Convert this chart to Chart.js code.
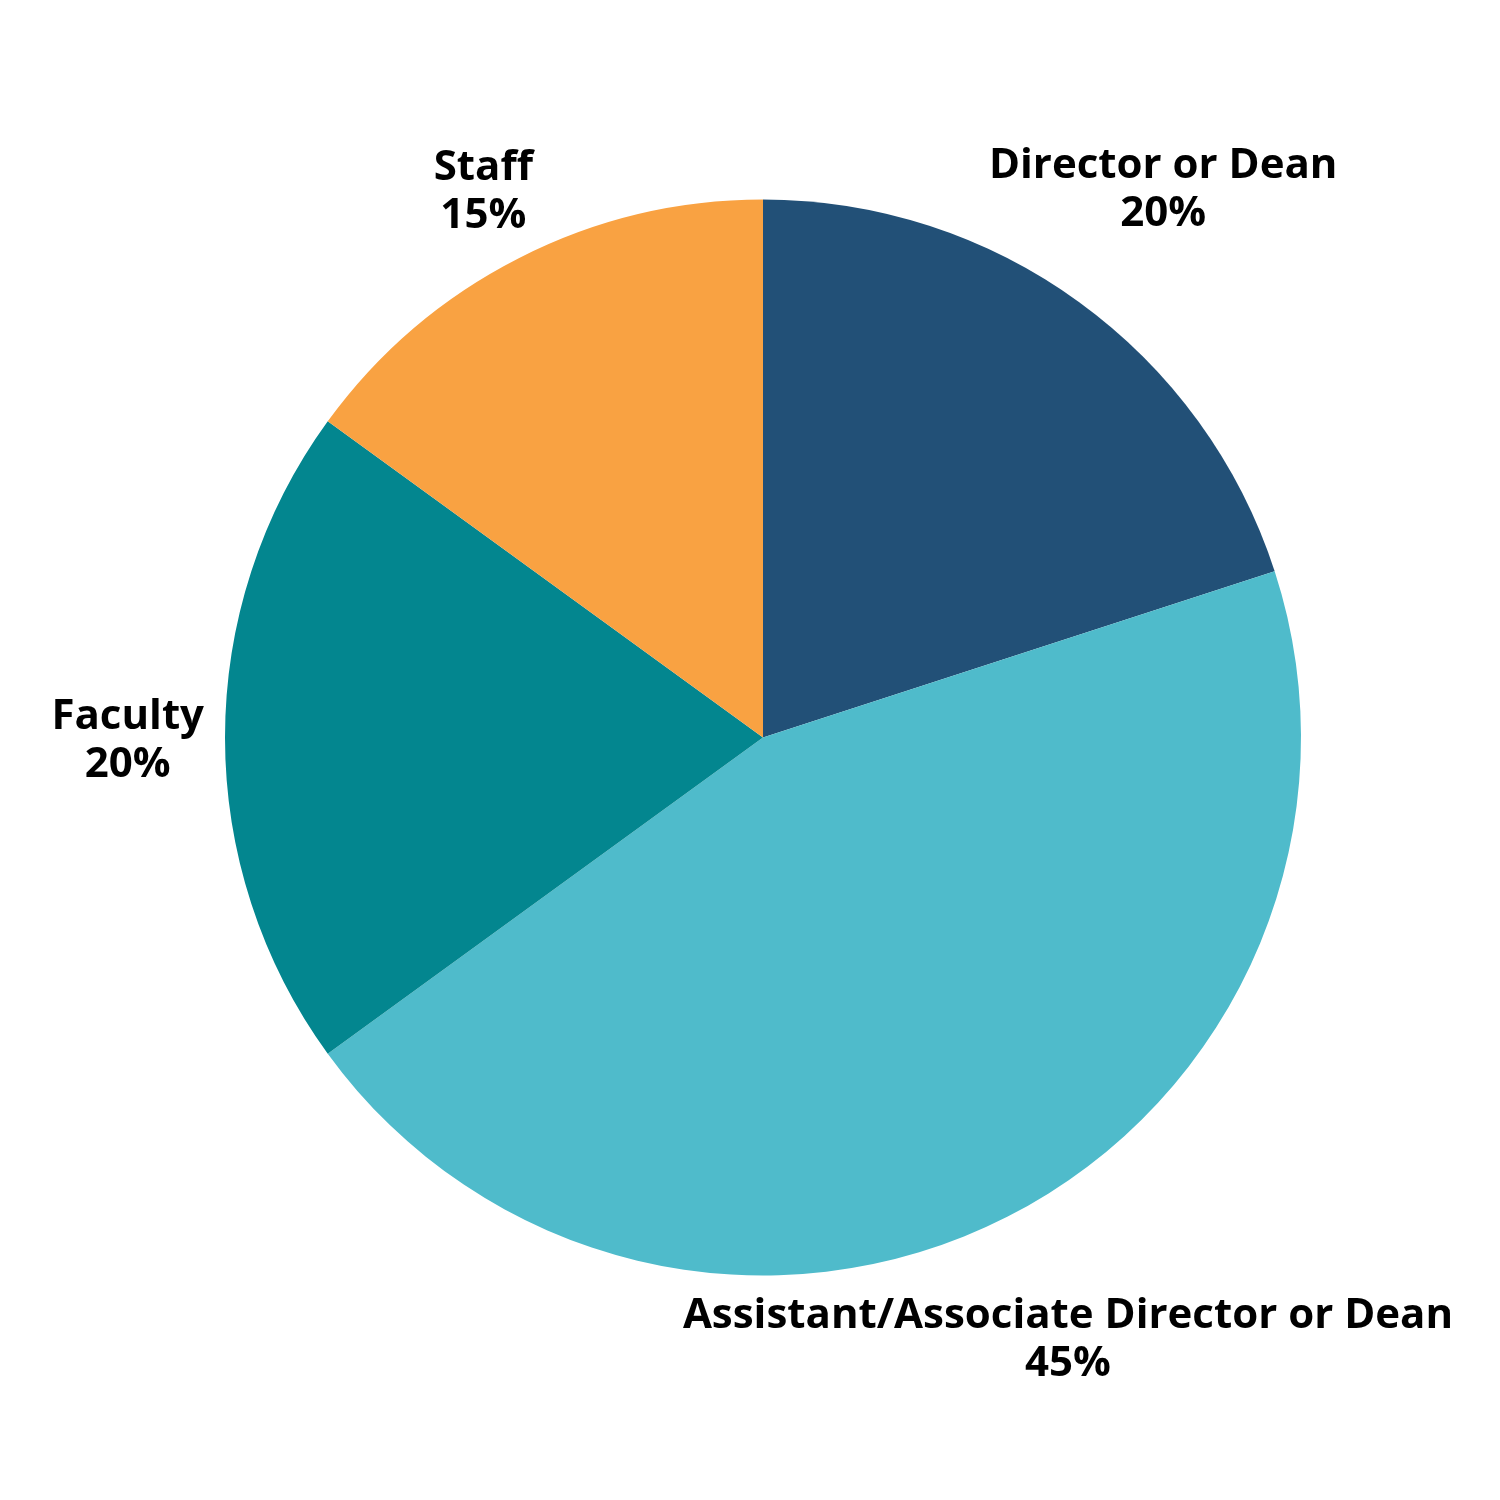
<!DOCTYPE html>
<html>
<head>
<meta charset="utf-8">
<script src="https://cdn.jsdelivr.net/npm/chart.js@4"></script>
<style>
  html, body { margin: 0; padding: 0; background: #ffffff; }
</style>
</head>
<body>
<canvas id="pie" width="1500" height="1500"></canvas>
<script>
  // Share of respondents by role (percent), clockwise from 12 o'clock.
  var roles = ["Director or Dean", "Assistant/Associate Director or Dean", "Faculty", "Staff"];
  var shares = [20, 45, 20, 15];
  var sliceColors = ["#225077", "#4fbbcb", "#03868f", "#f9a242"];

  var LABEL_GAP = 21;     // space between the pie edge and the nearest label corner
  var LINE_STEP = 48;     // baseline-to-baseline distance of the two label lines

  // Two-line labels (name, then percent) pushed out along each slice's middle
  // angle until the text block clears the circle by LABEL_GAP.
  var outsideLabels = {
    id: "outsideLabels",
    afterDatasetsDraw: function (chart) {
      var ctx = chart.ctx;
      var arcs = chart.getDatasetMeta(0).data;
      ctx.save();
      ctx.fillStyle = "#000000";
      ctx.font = "bold 42px 'Open Sans'";
      ctx.textAlign = "center";
      ctx.textBaseline = "alphabetic";
      arcs.forEach(function (arc, i) {
        var top = roles[i];
        var bottom = shares[i] + "%";
        var m1 = ctx.measureText(top);
        var m2 = ctx.measureText(bottom);
        var w = Math.max(m1.width, m2.width);
        var asc = m1.actualBoundingBoxAscent;
        var desc = m2.actualBoundingBoxDescent;
        var h = asc + LINE_STEP + desc;
        var mid = (arc.startAngle + arc.endAngle) / 2;
        var cos = Math.cos(mid), sin = Math.sin(mid);
        var r = arc.outerRadius;

        function clearance(d) {
          var cx = cos * d, cy = sin * d;
          var nx = Math.max(cx - w / 2, Math.min(0, cx + w / 2));
          var ny = Math.max(cy - h / 2, Math.min(0, cy + h / 2));
          return Math.sqrt(nx * nx + ny * ny) - r;
        }
        var lo = 0, hi = 3 * r;
        for (var k = 0; k < 60; k++) {
          var d = (lo + hi) / 2;
          if (clearance(d) < LABEL_GAP) lo = d; else hi = d;
        }
        var x = arc.x + cos * lo;
        var y = arc.y + sin * lo;
        var b1 = y - (LINE_STEP + desc - asc) / 2;
        ctx.fillText(top, x, b1);
        ctx.fillText(bottom, x, b1 + LINE_STEP);
      });
      ctx.restore();
    },
  };

  new Chart(document.getElementById("pie"), {
    type: "pie",
    data: {
      labels: roles,
      datasets: [{
        data: shares,
        backgroundColor: sliceColors,
        borderWidth: 0,
      }],
    },
    options: {
      responsive: false,
      animation: false,
      devicePixelRatio: 1,
      layout: { padding: { left: 225, right: 199, top: 199, bottom: 224 } },
      plugins: {
        legend: { display: false },
        tooltip: { enabled: false },
      },
    },
    plugins: [outsideLabels],
  });
</script>
</body>
</html>
